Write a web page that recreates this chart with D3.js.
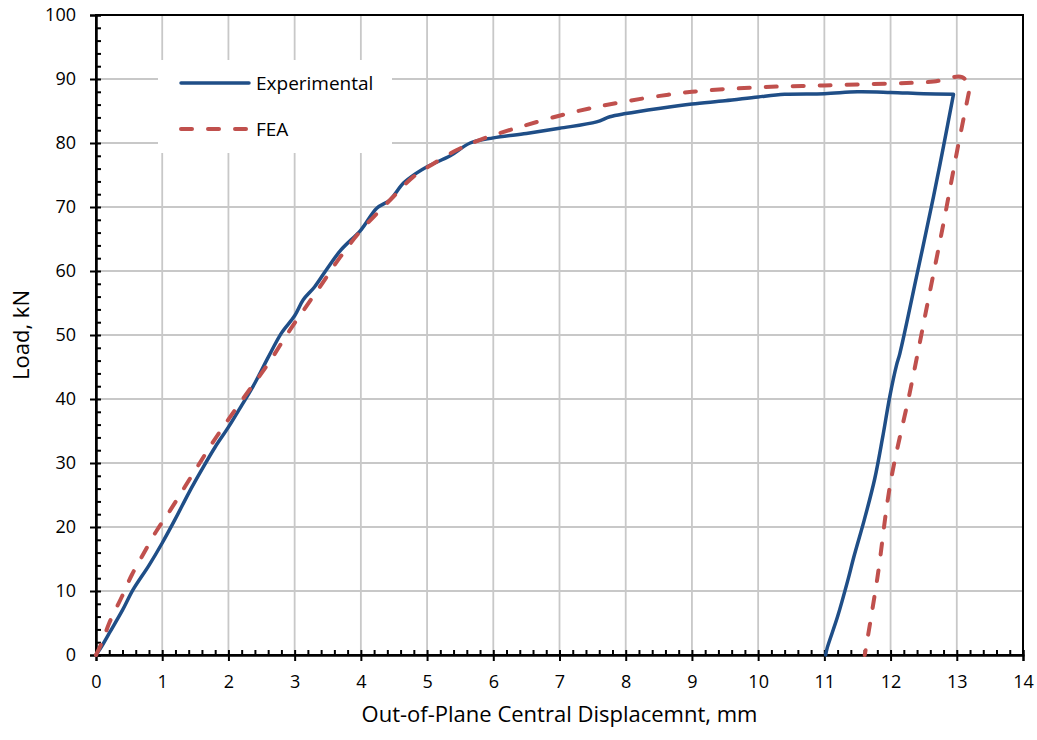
<!DOCTYPE html>
<html lang="en">
<head>
    <meta charset="utf-8">
    <title>Load vs displacement</title>
    <script src="https://d3js.org/d3.v7.min.js" charset="utf-8"></script>
    <style type="text/css">
        body { margin: 0; background: #fff; }
        svg text { font-family: "Open Sans", sans-serif; fill: #000; }
    </style>
</head>
<body>
	<svg width="1037" height="740"></svg>
	<script>

	    // values: [displacement mm, load kN]
	    var experimental = [
	        [0, 0], [0.1, 1.6], [0.2, 3.4], [0.4, 7], [0.56, 10.2], [0.8, 14], [1.0, 17.5],
	        [1.2, 21.3], [1.4, 25.3], [1.6, 29], [1.8, 32.5], [2.0, 35.6], [2.2, 39],
	        [2.4, 42.5], [2.6, 46.5], [2.8, 50.3], [3.0, 53], [3.13, 55.5], [3.3, 57.5],
	        [3.48, 60.2], [3.7, 63.3], [4.0, 66.4], [4.24, 69.8], [4.44, 71.1], [4.64, 73.7],
	        [4.84, 75.3], [5.0, 76.3], [5.35, 78], [5.65, 80], [6.0, 80.8], [6.5, 81.5],
	        [7.0, 82.3], [7.56, 83.3], [7.76, 84.1], [8.0, 84.6], [8.5, 85.4], [9.0, 86.1],
	        [9.5, 86.6], [10.0, 87.2], [10.4, 87.6], [11.0, 87.7], [11.5, 88.0], [12.0, 87.9],
	        [12.5, 87.7], [12.95, 87.6], [12.8, 79.5], [12.65, 71.7], [12.4, 59.5],
	        [12.14, 47.1], [12.09, 45.3], [11.99, 40.5], [11.88, 34], [11.76, 27.5],
	        [11.6, 21], [11.45, 15.5], [11.35, 11.5], [11.2, 6], [11.04, 1], [11.02, 0]
	    ];
	    var fea = [
	        [0, 0], [0.1, 2.2], [0.2, 5], [0.39, 9.1], [0.54, 12.5], [0.7, 15.5], [0.92, 19.5],
	        [1.12, 22.6], [1.47, 28.4], [1.82, 34.1], [2.28, 40.9], [2.6, 45.5], [2.93, 50.8],
	        [3.38, 57.5], [3.69, 62.2], [4.0, 66.3], [4.49, 71.6], [4.79, 74.7], [5.1, 76.8],
	        [5.45, 78.9], [5.8, 80.5], [6.4, 82.5], [7.2, 84.8], [8.0, 86.5], [9.0, 88.0],
	        [10.0, 88.7], [11.0, 89.0], [12.0, 89.3], [12.65, 89.6], [13.08, 90.3],
	        [13.2, 88.8], [13.0, 78.5], [12.8, 67.5], [12.55, 54.5], [12.3, 41.5],
	        [12.0, 27], [11.8, 12], [11.61, 0]
	    ];
	    var xTicks = [0, 1, 2, 3, 4, 5, 6, 7, 8, 9, 10, 11, 12, 13, 14];
	    var yTicks = [0, 10, 20, 30, 40, 50, 60, 70, 80, 90, 100];
	    var seriesNames = ["Experimental", "FEA"];

	    var svg = d3.select("svg"),
	        mLeft = 96, mTop = 15,
	        width = 1023 - mLeft,
	        height = 655 - mTop;

	    var xScale = d3.scaleLinear().domain([0, 14]).range([0, width]),
	        yScale = d3.scaleLinear().domain([0, 100]).range([height, 0]);

	    var g = svg.append("g")
	               .attr("transform", "translate(" + mLeft + "," + mTop + ")");

	    // grid
	    g.append("g").selectAll("line").data(xTicks).enter().append("line")
	     .attr("x1", function(d) { return xScale(d); }).attr("x2", function(d) { return xScale(d); })
	     .attr("y1", 0).attr("y2", height)
	     .attr("stroke", "#c8c8c8").attr("stroke-width", 1.8);
	    g.append("g").selectAll("line").data(yTicks).enter().append("line")
	     .attr("y1", function(d) { return yScale(d); }).attr("y2", function(d) { return yScale(d); })
	     .attr("x1", 0).attr("x2", width)
	     .attr("stroke", "#c8c8c8").attr("stroke-width", 1.8);

	    // legend box hides the grid behind it
	    g.append("rect")
	     .attr("x", 158 - mLeft).attr("y", 60 - mTop)
	     .attr("width", 234).attr("height", 93)
	     .attr("fill", "#fff");

	    // frame
	    g.append("rect")
	     .attr("width", width).attr("height", height)
	     .attr("fill", "none").attr("stroke", "#000").attr("stroke-width", 2);

	    // axes: majors cross the line, minors sit inside
	    var xMinor = d3.range(0, 14.001, 0.2),
	        yMinor = d3.range(0, 100.001, 2);

	    g.append("g")
	     .attr("transform", "translate(0," + height + ")")
	     .call(d3.axisBottom(xScale).tickValues(xTicks).tickSize(6).tickPadding(14).tickFormat(d3.format("d")));
	    g.append("g")
	     .attr("transform", "translate(0," + height + ")")
	     .call(d3.axisTop(xScale).tickValues(xMinor).tickSize(5).tickFormat(""));
	    g.append("g")
	     .call(d3.axisLeft(yScale).tickValues(yTicks).tickSize(6).tickPadding(14).tickFormat(d3.format("d")));
	    g.append("g")
	     .call(d3.axisRight(yScale).tickValues(yMinor).tickSize(5).tickFormat(""));

	    g.selectAll(".domain").attr("stroke", "#000").attr("stroke-width", 2);
	    g.selectAll(".tick line").attr("stroke", "#000").attr("stroke-width", 2);
	    g.selectAll(".tick text").attr("font-size", 18).attr("font-family", null);

	    // curves: smooth each branch, keep the turn-around corner sharp
	    var line = d3.line()
	        .curve(d3.curveCatmullRom.alpha(0.5))
	        .x(function(d) { return xScale(d[0]); })
	        .y(function(d) { return yScale(d[1]); });

	    function pathOf(data) {
	        var k = d3.maxIndex(data, function(d) { return d[0]; });
	        return line(data.slice(0, k + 1)) + line(data.slice(k)).replace(/^M/, "L");
	    }

	    g.append("path")
	     .attr("d", pathOf(experimental)).attr("fill", "none")
	     .attr("stroke", "#1f4e87").attr("stroke-width", 3.5)
	     .attr("stroke-linejoin", "round").attr("stroke-linecap", "round");

	    g.append("path")
	     .attr("d", pathOf(fea)).attr("fill", "none")
	     .attr("stroke", "#c0504d").attr("stroke-width", 4)
	     .attr("stroke-dasharray", "11,16")
	     .attr("stroke-linejoin", "round").attr("stroke-linecap", "round");

	    // legend
	    var legend = svg.append("g");
	    legend.append("line")
	     .attr("x1", 181).attr("x2", 249).attr("y1", 83).attr("y2", 83)
	     .attr("stroke", "#1f4e87").attr("stroke-width", 3.5).attr("stroke-linecap", "round");
	    legend.append("line")
	     .attr("x1", 181).attr("x2", 249).attr("y1", 129).attr("y2", 129)
	     .attr("stroke", "#c0504d").attr("stroke-width", 4)
	     .attr("stroke-dasharray", "11,16").attr("stroke-linecap", "round");
	    legend.selectAll("text").data(seriesNames).enter().append("text")
	     .attr("x", 256)
	     .attr("y", function(d, i) { return 90 + i * 46; })
	     .attr("font-size", 19)
	     .text(function(d) { return d; });

	    // axis titles
	    svg.append("text")
	     .attr("x", mLeft + width / 2).attr("y", 722)
	     .attr("text-anchor", "middle").attr("font-size", 22)
	     .text("Out-of-Plane Central Displacemnt, mm");
	    svg.append("text")
	     .attr("transform", "translate(29," + (mTop + height / 2) + ") rotate(-90)")
	     .attr("text-anchor", "middle").attr("font-size", 22)
	     .text("Load, kN");

	</script>
</body>
</html>
